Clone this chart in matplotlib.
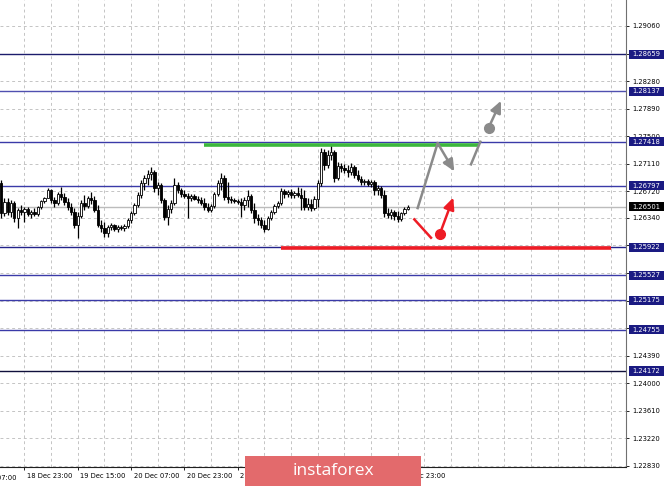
import matplotlib
matplotlib.use("Agg")
import numpy as np
import matplotlib.pyplot as plt
from matplotlib.patches import Rectangle
from matplotlib.transforms import ScaledTranslation, blended_transform_factory

# H1 candles, left to right
opens = [1.2684, 1.2641, 1.2657, 1.2642, 1.2655, 1.2634, 1.2645, 1.2642, 1.2647, 1.2640,
         1.2642, 1.2640, 1.2650, 1.2658, 1.2662, 1.2674, 1.2659, 1.2655, 1.2668, 1.2664,
         1.2657, 1.2650, 1.2642, 1.2624, 1.2637, 1.2655, 1.2651, 1.2662, 1.2659, 1.2645,
         1.2624, 1.2620, 1.2613, 1.2621, 1.2624, 1.2618, 1.2621, 1.2620, 1.2623, 1.2631,
         1.2641, 1.2652, 1.2667, 1.2684, 1.2691, 1.2696, 1.2699, 1.2676, 1.2681, 1.2659,
         1.2635, 1.2647, 1.2655, 1.2681, 1.2674, 1.2668, 1.2665, 1.2662, 1.2665, 1.2661,
         1.2659, 1.2655, 1.2650, 1.2645, 1.2651, 1.2668, 1.2684, 1.2691, 1.2664, 1.2661,
         1.2659, 1.2658, 1.2657, 1.2652, 1.2659, 1.2665, 1.2645, 1.2634, 1.2631, 1.2624,
         1.2618, 1.2634, 1.2642, 1.2651, 1.2655, 1.2672, 1.2668, 1.2671, 1.2667, 1.2669,
         1.2667, 1.2662, 1.2650, 1.2654, 1.2648, 1.2661, 1.2684, 1.2728, 1.2709, 1.2723,
         1.2728, 1.2691, 1.2708, 1.2705, 1.2702, 1.2699, 1.2706, 1.2695, 1.2689, 1.2685,
         1.2686, 1.2682, 1.2685, 1.2674, 1.2676, 1.2667, 1.2641, 1.2638, 1.2642, 1.2637,
         1.2633, 1.2641, 1.2647]
highs = [1.2688, 1.2662, 1.2662, 1.2659, 1.2658, 1.2648, 1.2652, 1.2650, 1.2650, 1.2645,
         1.2648, 1.2651, 1.2659, 1.2664, 1.2676, 1.2675, 1.2664, 1.2671, 1.2678, 1.2669,
         1.2662, 1.2655, 1.2648, 1.2642, 1.2659, 1.2667, 1.2665, 1.2671, 1.2665, 1.2652,
         1.2631, 1.2628, 1.2624, 1.2627, 1.2625, 1.2624, 1.2624, 1.2625, 1.2634, 1.2644,
         1.2655, 1.2671, 1.2688, 1.2695, 1.2702, 1.2706, 1.2702, 1.2685, 1.2684, 1.2662,
         1.2652, 1.2659, 1.2691, 1.2685, 1.2676, 1.2674, 1.2669, 1.2668, 1.2668, 1.2665,
         1.2664, 1.2662, 1.2655, 1.2654, 1.2671, 1.2688, 1.2698, 1.2695, 1.2685, 1.2665,
         1.2662, 1.2661, 1.2662, 1.2664, 1.2674, 1.2668, 1.2655, 1.2640, 1.2635, 1.2631,
         1.2637, 1.2645, 1.2654, 1.2658, 1.2676, 1.2675, 1.2674, 1.2675, 1.2672, 1.2678,
         1.2676, 1.2674, 1.2662, 1.2661, 1.2665, 1.2688, 1.2733, 1.2732, 1.2730, 1.2739,
         1.2730, 1.2713, 1.2712, 1.2710, 1.2709, 1.2712, 1.2709, 1.2702, 1.2694, 1.2689,
         1.2689, 1.2688, 1.2688, 1.2681, 1.2679, 1.2674, 1.2648, 1.2647, 1.2645, 1.2644,
         1.2642, 1.2650, 1.2652]
lows = [1.2634, 1.2637, 1.2638, 1.2635, 1.2628, 1.2620, 1.2638, 1.2628, 1.2637, 1.2634,
        1.2637, 1.2637, 1.2647, 1.2655, 1.2664, 1.2655, 1.2650, 1.2652, 1.2659, 1.2652,
        1.2645, 1.2638, 1.2620, 1.2606, 1.2634, 1.2645, 1.2648, 1.2654, 1.2642, 1.2621,
        1.2614, 1.2607, 1.2607, 1.2617, 1.2616, 1.2614, 1.2617, 1.2616, 1.2620, 1.2627,
        1.2638, 1.2650, 1.2662, 1.2674, 1.2681, 1.2688, 1.2671, 1.2667, 1.2655, 1.2631,
        1.2624, 1.2641, 1.2652, 1.2669, 1.2664, 1.2662, 1.2634, 1.2658, 1.2659, 1.2655,
        1.2652, 1.2645, 1.2642, 1.2642, 1.2648, 1.2665, 1.2674, 1.2659, 1.2655, 1.2655,
        1.2655, 1.2654, 1.2635, 1.2645, 1.2650, 1.2641, 1.2627, 1.2624, 1.2620, 1.2614,
        1.2617, 1.2631, 1.2640, 1.2648, 1.2652, 1.2662, 1.2664, 1.2662, 1.2662, 1.2664,
        1.2645, 1.2645, 1.2645, 1.2644, 1.2645, 1.2650, 1.2679, 1.2702, 1.2705, 1.2716,
        1.2685, 1.2688, 1.2699, 1.2698, 1.2692, 1.2695, 1.2691, 1.2686, 1.2681, 1.2681,
        1.2679, 1.2678, 1.2667, 1.2667, 1.2662, 1.2635, 1.2634, 1.2633, 1.2631, 1.2628,
        1.2630, 1.2638, 1.2645]
closes = [1.2641, 1.2657, 1.2642, 1.2655, 1.2634, 1.2645, 1.2642, 1.2647, 1.2640, 1.2642,
          1.2640, 1.2650, 1.2658, 1.2662, 1.2674, 1.2659, 1.2655, 1.2668, 1.2664, 1.2657,
          1.2650, 1.2642, 1.2624, 1.2637, 1.2655, 1.2651, 1.2662, 1.2659, 1.2645, 1.2624,
          1.2620, 1.2613, 1.2621, 1.2624, 1.2618, 1.2621, 1.2620, 1.2623, 1.2631, 1.2641,
          1.2652, 1.2667, 1.2684, 1.2691, 1.2696, 1.2699, 1.2676, 1.2681, 1.2659, 1.2635,
          1.2647, 1.2655, 1.2681, 1.2674, 1.2668, 1.2665, 1.2662, 1.2665, 1.2661, 1.2659,
          1.2655, 1.2650, 1.2645, 1.2651, 1.2668, 1.2684, 1.2691, 1.2664, 1.2661, 1.2659,
          1.2658, 1.2657, 1.2652, 1.2659, 1.2665, 1.2645, 1.2634, 1.2631, 1.2624, 1.2618,
          1.2634, 1.2642, 1.2651, 1.2655, 1.2672, 1.2668, 1.2671, 1.2667, 1.2669, 1.2667,
          1.2662, 1.2650, 1.2654, 1.2648, 1.2661, 1.2684, 1.2728, 1.2709, 1.2723, 1.2728,
          1.2691, 1.2708, 1.2705, 1.2702, 1.2699, 1.2706, 1.2695, 1.2689, 1.2685, 1.2686,
          1.2682, 1.2685, 1.2674, 1.2676, 1.2667, 1.2641, 1.2638, 1.2642, 1.2637, 1.2633,
          1.2641, 1.2647, 1.2650]

# horizontal support / resistance levels
levels = [1.28659, 1.28137, 1.27418, 1.26797, 1.25922, 1.25527, 1.25175, 1.24755, 1.24172]
level_colors = ['#1c1c6c', '#5050b0', '#3a3aa8', '#3a3aa8', '#22228a',
                '#3a3aa8', '#3a3aa8', '#3a3aa8', '#10103c']
bid = 1.26501

# price scale; labels that sit under a level box are left blank
y_ticks = [1.29060, 1.28670, 1.28280, 1.27890, 1.27500, 1.27110, 1.26720, 1.26340, 1.25950,
           1.25560, 1.25170, 1.24780, 1.24390, 1.24000, 1.23610, 1.23220, 1.22830]
y_hidden = [1.28670, 1.25950, 1.25560, 1.25170, 1.24780]
x_ticks = [7, 23, 39, 55, 71, 87, 103, 119]
x_labels = ['18 Dec 23:00', '19 Dec 15:00', '20 Dec 07:00', '20 Dec 23:00',
            '21 Dec 15:00', '', '', '26 Dec 23:00']
x_grid_minor = [15, 31, 47, 63, 79, 95, 111, 127, 135, 143, 151, 159, 167, 175, 183]

# the forecast drawings: (bar index, price)
green_line = ([61, 143.4], [1.2738, 1.2738])
red_line = ([84, 183], [1.2591, 1.2591])
gray_up = ([125, 131], [1.2648, 1.2740])
gray_down = ((131, 1.2740), (136, 1.2700))
gray_up2 = ([141, 143.8], [1.2710, 1.2742])
gray_dot = ((146.3, 1.2762), (150, 1.2800))
red_down = ([124, 129], [1.2632, 1.2606])
red_dot = ((131.7, 1.2612), (135.7, 1.2663))

FONT = 'DejaVu Sans'
FS = 4.9


def draw_candles(ax):
    x = np.arange(len(closes))
    o = np.array(opens)
    c = np.array(closes)
    ax.vlines(x, lows, highs, color='black', lw=0.9, zorder=3)
    bottom = np.minimum(o, c)
    height = np.abs(c - o)
    faces = ['white' if cc >= oo else 'black' for oo, cc in zip(o, c)]
    ax.bar(x, height, bottom=bottom, width=0.7, color=faces,
           edgecolor='black', linewidth=0.6, zorder=4)


def draw_levels(ax):
    trans = blended_transform_factory(ax.transAxes, ax.transData)
    px = 0.0001417  # price per pixel
    for lvl, col in zip(levels, level_colors):
        ax.axhline(lvl, color=col, lw=1.0, zorder=2)
        ax.add_patch(Rectangle((1.0 + 3 / 626, lvl - 4.6 * px), 35 / 626, 9.2 * px,
                               transform=trans, fc='#1a1a82', ec='none',
                               clip_on=False, zorder=10))
        ax.text(1.0 + 6 / 626, lvl, f'{lvl:.5f}', transform=trans, color='white',
                fontsize=FS, family=FONT, va='center', ha='left', clip_on=False, zorder=11)
    ax.axhline(bid, color='#bcbcbc', lw=1.0, zorder=1.5)
    ax.add_patch(Rectangle((1.0 + 3 / 626, bid - 4.6 * px), 35 / 626, 9.2 * px,
                           transform=trans, fc='black', ec='none', clip_on=False, zorder=10))
    ax.text(1.0 + 6 / 626, bid, f'{bid:.5f}', transform=trans, color='white',
            fontsize=FS, family=FONT, va='center', ha='left', clip_on=False, zorder=11)


def arrow(ax, start, end, color):
    ax.annotate('', xy=end, xytext=start,
                arrowprops=dict(arrowstyle='-|>,head_length=0.7,head_width=0.32',
                                color=color, lw=1.8, shrinkA=0, shrinkB=0),
                zorder=6)


def draw_forecast(ax):
    gray = '#8a8a8a'
    red = '#ee1c25'
    ax.plot(*green_line, color='#3cb83c', lw=2.6, zorder=5, solid_capstyle='butt')
    ax.plot(*red_line, color=red, lw=2.6, zorder=5, solid_capstyle='butt')
    ax.plot(*gray_up, color=gray, lw=1.8, zorder=6)
    arrow(ax, gray_down[0], gray_down[1], gray)
    ax.plot(*gray_up2, color=gray, lw=1.8, zorder=6)
    ax.plot(*gray_dot[0], 'o', color=gray, ms=7, zorder=7)
    arrow(ax, gray_dot[0], gray_dot[1], gray)
    ax.plot(*red_down, color=red, lw=1.8, zorder=6)
    ax.plot(*red_dot[0], 'o', color=red, ms=7, zorder=7)
    arrow(ax, red_dot[0], red_dot[1], red)


def main():
    fig = plt.figure(figsize=(6.65, 4.86), dpi=100)
    ax = fig.add_axes([0.0, 19 / 486, 626 / 665, 467 / 486])
    ax.set_xlim(-0.3, 187.5)
    ax.set_ylim(1.22812, 1.29428)

    draw_candles(ax)
    draw_levels(ax)
    draw_forecast(ax)

    # axes and grid, MT4 style
    for side in ['top', 'left']:
        ax.spines[side].set_visible(False)
    ax.spines['right'].set_color('#707070')
    ax.spines['bottom'].set_color('#202020')
    ax.yaxis.tick_right()
    ax.set_yticks(y_ticks)
    ax.set_yticklabels(['' if v in y_hidden else f'{v:.5f}' for v in y_ticks],
                       fontsize=FS, family=FONT)
    ax.tick_params(axis='y', length=2.2, width=0.6, pad=2, colors='black')
    ax.set_xticks(x_ticks)
    ax.set_xticklabels(x_labels, fontsize=FS, family=FONT, ha='left')
    ax.set_xticks(x_grid_minor, minor=True)
    ax.tick_params(axis='x', which='major', length=2.2, width=0.6, pad=2)
    ax.tick_params(axis='x', which='minor', length=0)
    shift = ScaledTranslation(2 / 72, 0, fig.dpi_scale_trans)
    for lab in ax.get_xticklabels():
        lab.set_transform(lab.get_transform() + shift)
    ax.grid(True, which='both', color='#c4c4c4', lw=0.7, ls=(0, (3, 3)))
    ax.set_axisbelow(True)

    # first date label, mostly off the left edge
    ax.text(-9, -0.018, '18 Dec 07:00', transform=blended_transform_factory(ax.transData, ax.transAxes),
            fontsize=FS, family=FONT, ha='left', va='top', clip_on=False)

    # watermark banner
    fig.add_artist(Rectangle((245 / 665, 0), 176 / 665, 30.5 / 486,
                             transform=fig.transFigure, fc='#e36a6c', ec='none', zorder=20))
    fig.text(333 / 665, 15.5 / 486, 'instaforex', color='white', fontsize=12.5,
             family='Open Sans', ha='center', va='center', zorder=21)

    fig.savefig('out.png', dpi=100)


if __name__ == "__main__":
    main()
